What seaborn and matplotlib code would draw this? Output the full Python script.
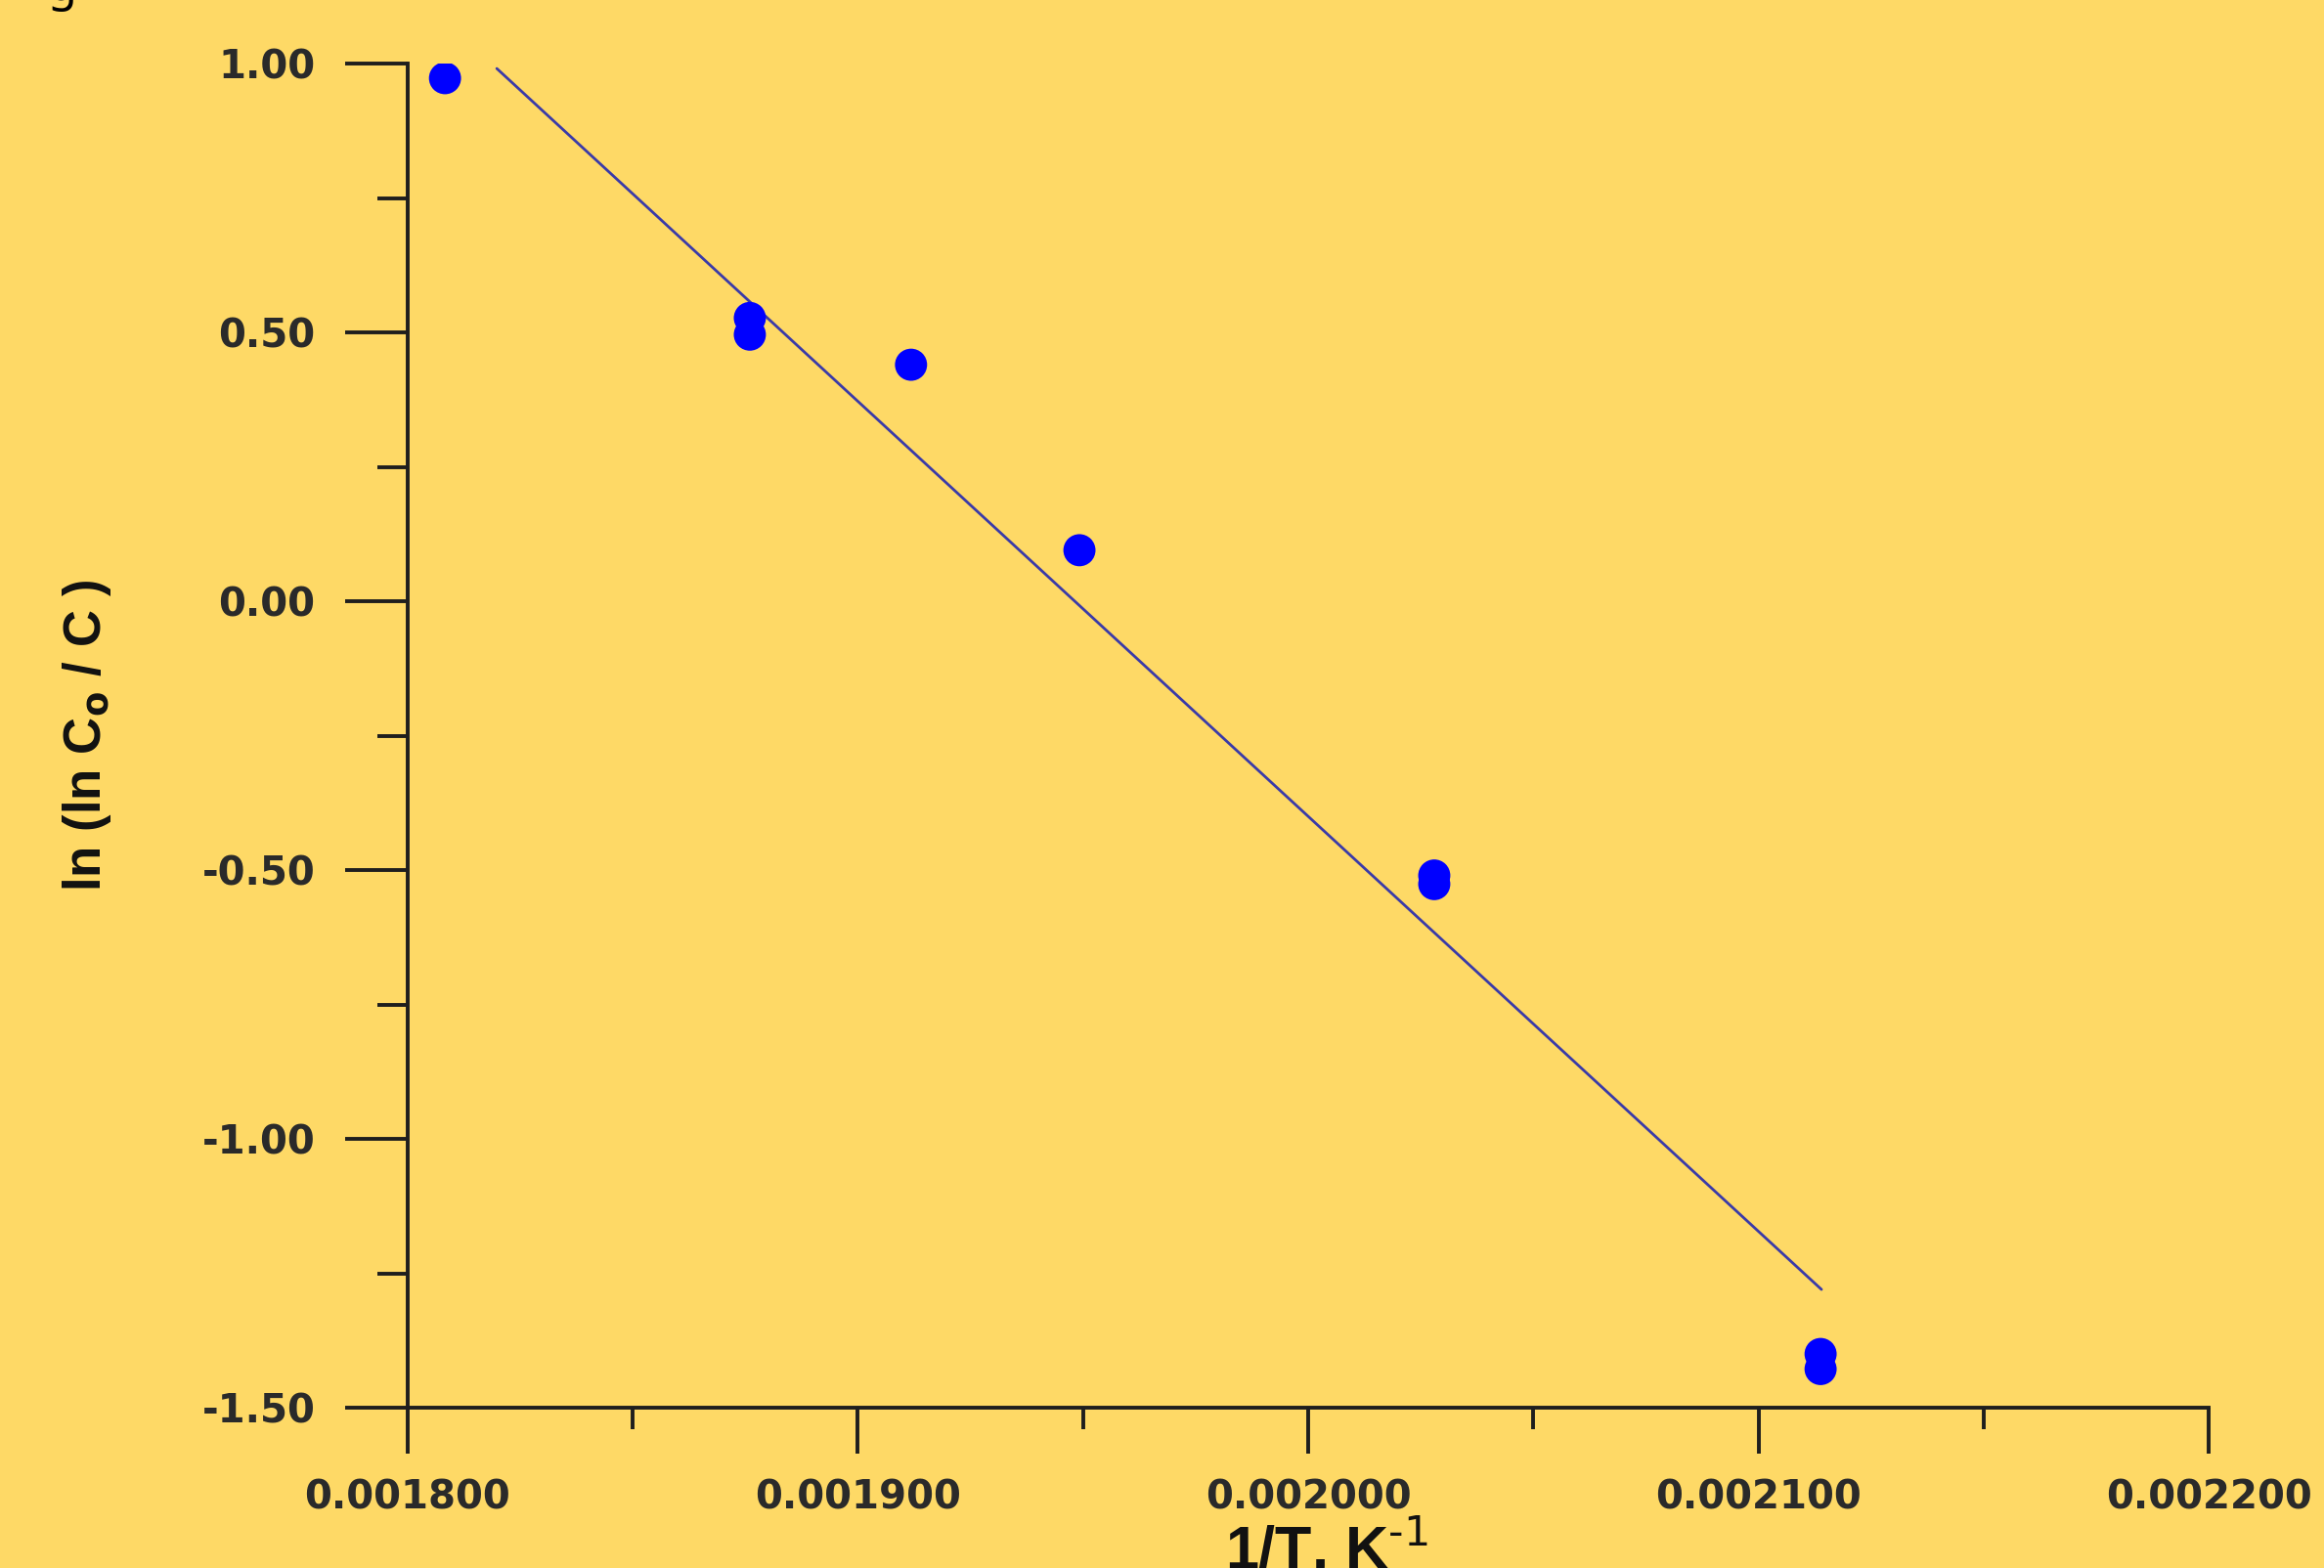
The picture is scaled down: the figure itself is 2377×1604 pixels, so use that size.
import numpy as np
import pandas as pd
import matplotlib
matplotlib.use('Agg')
import matplotlib.pyplot as plt
import matplotlib.ticker as mticker
import seaborn as sns

# Значения
inv_T = [0.0018083, 0.001876, 0.001876, 0.0019118, 0.0019492, 0.002028, 0.002028, 0.0021138, 0.0021138]
ln_ln = [0.973, 0.527, 0.496, 0.440, 0.095, -0.510, -0.526, -1.400, -1.428]

# Линия аппроксимации (концы)
fit_x = [0.0018198, 0.0021140]
fit_y = [0.991, -1.280]

x_ticks = [0.0018, 0.0019, 0.0020, 0.0021, 0.0022]
y_ticks = [-1.5, -1.0, -0.5, 0.0, 0.5, 1.0]

bg = '#FED966'
ink = '#1e1e1e'

sns.set_theme(style='ticks', rc={
    'figure.facecolor': bg,
    'axes.facecolor': bg,
    'axes.edgecolor': ink,
    'axes.linewidth': 2.8,
    'axes.unicode_minus': False,
})
plt.rcParams['font.family'] = ['Liberation Sans', 'DejaVu Sans']

points = pd.DataFrame({'x': inv_T, 'y': ln_ln})
fit = pd.DataFrame({'x': fit_x, 'y': fit_y})

fig = plt.figure(figsize=(23.77, 16.04), dpi=100)
ax = fig.add_axes([0.1754, 0.1022, 0.775, 0.8572])

sns.lineplot(data=fit, x='x', y='y', ax=ax, color='#3a3aa8', linewidth=2.0)
sns.scatterplot(data=points, x='x', y='y', ax=ax, color='#0000ff', s=560,
                edgecolor='none', zorder=3)

ax.set_xlim(0.0018, 0.0022)
ax.set_ylim(-1.5, 1.0)
sns.despine(ax=ax)

ax.xaxis.set_major_locator(mticker.FixedLocator(x_ticks))
ax.xaxis.set_minor_locator(mticker.MultipleLocator(0.00005))
ax.yaxis.set_major_locator(mticker.FixedLocator(y_ticks))
ax.yaxis.set_minor_locator(mticker.MultipleLocator(0.25))
ax.xaxis.set_major_formatter(mticker.FormatStrFormatter('%.6f'))
ax.yaxis.set_major_formatter(mticker.FormatStrFormatter('%.2f'))

ax.tick_params(axis='x', which='major', direction='out', length=34, width=2.8,
               color=ink, pad=18)
ax.tick_params(axis='x', which='minor', direction='out', length=16, width=2.8, color=ink)
ax.tick_params(axis='y', which='major', direction='out', length=46, width=2.8,
               color=ink, pad=22)
ax.tick_params(axis='y', which='minor', direction='out', length=22, width=2.8, color=ink)

for lab in ax.get_xticklabels() + ax.get_yticklabels():
    lab.set_fontfamily('DejaVu Sans')
    lab.set_fontweight('bold')
    lab.set_fontsize(29)
    lab.set_color('#2a2a2a')

ax.set_xlabel(r'1/T, K$^{\mathbf{\text{-1}}}$', fontsize=44, fontweight='bold',
              color='#111111')
ax.set_ylabel(r'ln (ln C$_{\mathbf{o}}$ / C )', fontsize=38, fontweight='bold',
              color='#111111')
ax.xaxis.label.set_va('baseline')
ax.xaxis.set_label_coords(0.51, -0.1195)
ax.yaxis.label.set_va('center')
ax.yaxis.set_label_coords(-0.178, 0.5)

# обрезанная подпись сверху слева
fig.text(48 / 2377, 1.0, 'g', fontsize=35, family='Noto Sans', color='black',
         ha='left', va='baseline')

fig.savefig('out.png', dpi=100, facecolor=bg)
